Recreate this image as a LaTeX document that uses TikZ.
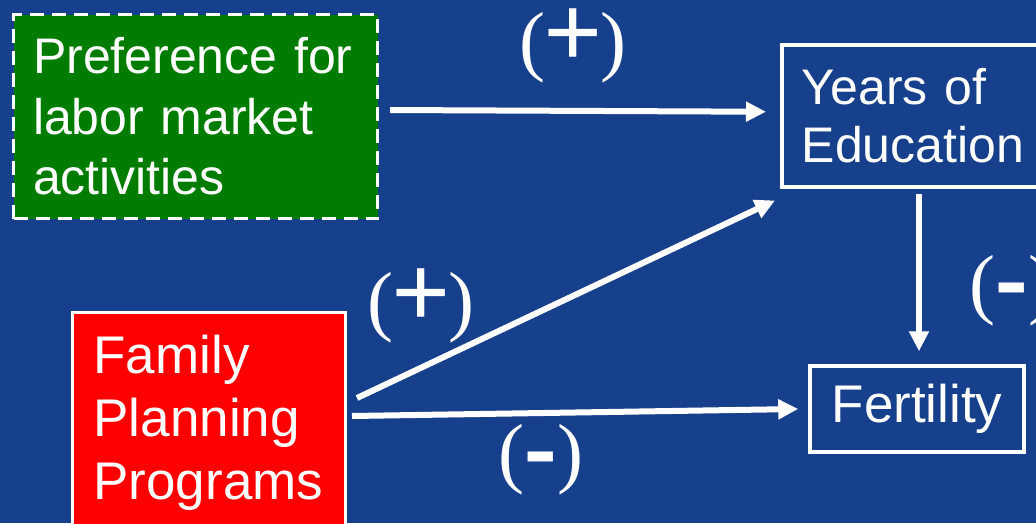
\documentclass[tikz,border=0pt]{standalone}
\usepackage{fontspec}
\usepackage{graphicx}
\setmainfont{Liberation Sans}
\newfontfamily\signfont{Liberation Serif}
\usetikzlibrary{arrows.meta,calc}
\definecolor{bgblue}{RGB}{22,63,140}
\definecolor{boxgreen}{RGB}{0,125,0}
\definecolor{boxred}{RGB}{255,0,0}
\newcommand{\bigplus}{\kern-2pt\smash{\raisebox{-1pt}{\fontsize{104}{104}\selectfont\bfseries +}}\kern-2pt}
\newcommand{\bigminus}{\smash{\raisebox{-6pt}{\scalebox{1.25}[1.5]{\bfseries -}}}}
\begin{document}
\begin{tikzpicture}[x=1pt,y=-1pt,
  boxtext/.style={text=white, align=left, draw=white},
  conn/.style={white, line width=6pt, -{Triangle[length=20pt,width=19pt]}},
  sign/.style={text=white, font=\signfont\fontsize{78}{80}\selectfont, inner sep=0pt}]
\useasboundingbox (0,0) rectangle (1036,523);
\clip (0,0) rectangle (1036,523);
\fill[bgblue] (0,0) rectangle (1036,523);

% boxes
\node[boxtext, fill=boxgreen, line width=3.3pt, dash pattern=on 14pt off 8pt,
      text width=325pt, inner xsep=19.5pt, inner ysep=0pt, minimum height=204pt,
      font=\fontsize{50}{60.5}\selectfont] (pref) at (195.5,116.5)
  {Preference for\\labor market\\activities};

\node[boxtext, fill=bgblue, line width=3.5pt, anchor=north west,
      text width=230pt, inner xsep=20pt, inner ysep=0pt, minimum height=142pt,
      font=\fontsize{50}{58}\selectfont] (edu) at (780,43)
  {Years of\\Education};

\node[boxtext, fill=bgblue, line width=3.5pt, align=center,
      minimum width=214pt, minimum height=86pt, inner sep=0pt,
      font=\fontsize{53}{60}\selectfont] (fert) at (917,409)
  {Fertility};

\node[boxtext, fill=boxred, line width=3pt, anchor=north west,
      text width=231pt, inner xsep=21pt, inner ysep=23pt,
      font=\fontsize{53}{63}\selectfont] (fpp) at (71,311)
  {Family\\Planning\\Programs};

% connectors
\draw[conn] ($(pref.east)+(11,-6.5)$) -- ($(edu.west)+(-14,-4)$);
\draw[conn] ($(fpp.north east)+(10,87)$) -- ($(edu.south west)+(-5,12)$);
\draw[conn] ($(fpp.north east)+(5,105)$) -- ($(fert.west)+(-10,0)$);
\draw[conn] ($(fert.north |- edu.south)+(2,5)$) -- ($(fert.north)+(2,-13)$);

% signs
\node[sign] (s1) at (573,48) {(\bigplus)};
\node[sign] (s2) at (421,308) {(\bigplus)};
\node[sign] (s3) at (541,460) {(\bigminus)};
\node[sign] (s4) at (1012,291) {(\bigminus)};
\end{tikzpicture}
\end{document}
